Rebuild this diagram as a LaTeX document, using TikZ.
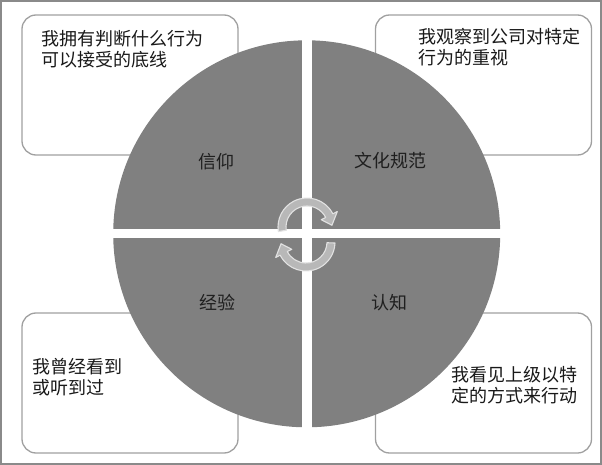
\documentclass[tikz,border=0pt]{standalone}
\usepackage{fontspec}
\newfontfamily\cjk{Noto Sans CJK SC}
\definecolor{quadgray}{HTML}{808080}
\definecolor{boxgray}{HTML}{A0A0A0}
\definecolor{framegray}{HTML}{8A8A8A}
\definecolor{arrowfill}{HTML}{B8B8B8}
\definecolor{arrowline}{HTML}{E2E2E2}
\tikzset{
  panel/.style={draw=boxgray, line width=1.3pt, fill=white, rounded corners=14pt,
    minimum width=216pt, minimum height=140pt, inner sep=0pt},
  note/.style={anchor=west, align=left, inner sep=0pt, text=black!90},
  quadlabel/.style={inner sep=0pt, text=black!88},
  cyclearrow/.style={fill=arrowfill, draw=arrowline, line width=1.1pt, line join=round}
}
\begin{document}
\begin{tikzpicture}[x=1pt,y=-1pt,font=\cjk\fontsize{18}{21}\selectfont]
            \useasboundingbox (0,0) rectangle (602,465);
            \draw[framegray, line width=1.6pt] (1,1) rectangle (601,464); %frame

            % the four boxes behind the circle
            \node[panel] (tlbox) at (130,85) {};
            \node[panel] (trbox) at (483.5,85) {};
            \node[panel] (blbox) at (130,383) {};
            \node[panel] (brbox) at (483.5,383) {};

            \node[note] (tltext) at (41,49.5) {我拥有判断什么行为\\可以接受的底线};
            \node[note] (trtext) at (418,47) {我观察到公司对特定\\行为的重视};
            \node[note] (bltext) at (32,377.5) {我曾经看到\\或听到过};
            \node[note] (brtext) at (451,385.5) {我看见上级以特\\定的方式来行动};

            % the circle in four parts
            \coordinate (O) at (306.7,233.8);
            \begin{scope}
                \clip (O) circle (193.5);
                \fill[quadgray] (100,30) rectangle (301.7,229.3);
                \fill[quadgray] (311.7,30) rectangle (510,229.3);
                \fill[quadgray] (100,238.3) rectangle (301.7,440);
                \fill[quadgray] (311.7,238.3) rectangle (510,440);
            \end{scope}

            \node[quadlabel] (xinyang) at (216.5,161.5) {信仰};
            \node[quadlabel] (wenhua) at (390,161) {文化规范};
            \node[quadlabel] (jingyan) at (217,303) {经验};
            \node[quadlabel] (renzhi) at (389.5,303) {认知};

            % the two arrows in the middle
            \begin{scope}[shift={(307,227)}, yscale=-1]
                \filldraw[cyclearrow] (189:21) arc[start angle=189, end angle=27, radius=21]
                    -- (27:16) -- (4:25) -- (27:34) -- (27:29)
                    arc[start angle=27, end angle=189, radius=29] -- cycle;
            \end{scope}
            \begin{scope}[shift={(306,242)}, yscale=-1]
                \filldraw[cyclearrow] (-2:21) arc[start angle=-2, end angle=-153, radius=21]
                    -- (-153:16) -- (-176:25) -- (-153:34) -- (-153:29)
                    arc[start angle=-153, end angle=-2, radius=29] -- cycle;
            \end{scope}
        \end{tikzpicture}
\end{document}
